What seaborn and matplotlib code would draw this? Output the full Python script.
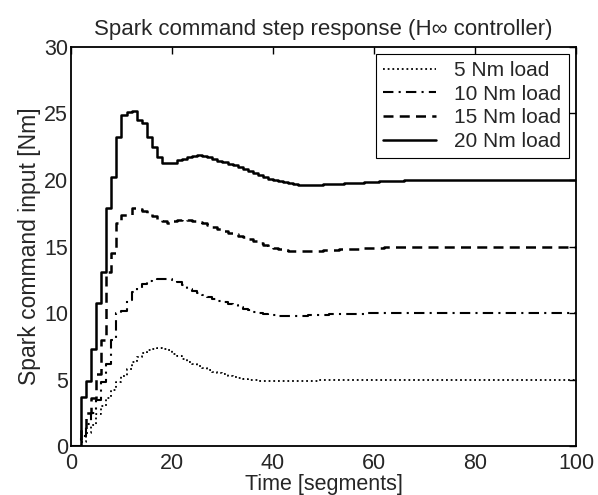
import numpy as np
import pandas as pd
import matplotlib
matplotlib.use("Agg")
import matplotlib.pyplot as plt
import seaborn as sns

# time axis in segments
time = list(range(101))

# spark command input [Nm] per segment
load_5 = [
    0, 0, 0.3, 1.0, 1.6, 2.4, 3.0, 3.6, 4.2, 4.8,
    5.3, 5.8, 6.3, 6.7, 7.0, 7.2, 7.3, 7.35, 7.3, 7.2,
    6.95, 6.75, 6.55, 6.35, 6.15, 6.0, 5.85, 5.7, 5.6, 5.5,
    5.4, 5.3, 5.2, 5.1, 5.05, 5.0, 4.95, 4.9, 4.9, 4.88,
    4.88, 4.88, 4.88, 4.88, 4.9, 4.9, 4.92, 4.93, 4.94, 4.95,
    4.96, 4.96, 4.97, 4.97, 4.98, 4.98, 4.99, 4.99, 5.0, 5.0,
] + [5.0] * 41

load_10 = [
    0, 0, 0.8, 1.7, 2.5, 3.5, 4.8, 6.2, 8.0, 10.0,
    10.2, 11.0, 11.6, 11.9, 12.2, 12.4, 12.5, 12.6, 12.6, 12.6,
    12.5, 12.35, 12.1, 11.85, 11.7, 11.55, 11.4, 11.2, 11.05, 10.95,
    10.85, 10.7, 10.6, 10.5, 10.35, 10.25, 10.1, 10.0, 9.95, 9.9,
    9.85, 9.82, 9.8, 9.8, 9.8, 9.8, 9.82, 9.84, 9.86, 9.88,
    9.9, 9.91, 9.92, 9.93, 9.94, 9.95, 9.96, 9.97, 9.98, 9.99,
] + [10.0] * 41

load_15 = [
    0, 0, 1.3, 2.5, 3.6, 5.4, 8.0, 13.1, 14.5, 16.8,
    17.4, 17.4, 17.9, 17.8, 17.7, 17.5, 17.3, 17.1, 16.9, 16.8,
    16.9, 17.0, 17.05, 17.0, 16.95, 16.85, 16.75, 16.6, 16.5, 16.35,
    16.2, 16.05, 15.95, 15.8, 15.7, 15.55, 15.4, 15.25, 15.1, 15.0,
    14.9, 14.8, 14.75, 14.7, 14.7, 14.7, 14.7, 14.7, 14.7, 14.7,
    14.72, 14.74, 14.76, 14.78, 14.8, 14.82, 14.84, 14.86, 14.88, 14.9,
    14.91, 14.92, 14.93, 14.94, 14.95, 14.96, 14.97, 14.98, 14.99, 14.99,
] + [15.0] * 31

load_20 = [
    0, 0, 3.7, 4.9, 7.3, 10.8, 13.1, 17.9, 20.2, 23.2,
    24.9, 25.1, 25.2, 24.5, 24.3, 23.2, 22.5, 21.7, 21.3, 21.3,
    21.3, 21.5, 21.6, 21.7, 21.8, 21.85, 21.8, 21.7, 21.6, 21.45,
    21.35, 21.2, 21.1, 20.95, 20.8, 20.65, 20.5, 20.4, 20.25, 20.1,
    20.0, 19.9, 19.85, 19.75, 19.7, 19.65, 19.65, 19.65, 19.65, 19.65,
    19.67, 19.7, 19.7, 19.72, 19.75, 19.77, 19.8, 19.8, 19.82, 19.85,
    19.87, 19.9, 19.9, 19.92, 19.93, 19.95, 19.96, 19.97, 19.98, 19.99,
] + [20.0] * 31

labels = ["5 Nm load", "10 Nm load", "15 Nm load", "20 Nm load"]
series = [load_5, load_10, load_15, load_20]
styles = [(0, (1, 1.6)), (0, (5, 2.5, 1, 2.5)), (0, (4, 2.5)), "-"]
widths = [1.3, 1.5, 1.8, 1.8]

df = pd.concat(
    [pd.DataFrame({"time": time, "value": s, "load": lab}) for s, lab in zip(series, labels)],
    ignore_index=True,
)

sns.set_style("white")
plt.rcParams["font.family"] = ["Liberation Sans", "DejaVu Sans"]

fig = plt.figure(figsize=(5.98, 4.95), dpi=100)
ax = fig.add_axes([0.1187, 0.098, 0.8445, 0.808])

for lab, ls, lw in zip(labels, styles, widths):
    sub = df[df["load"] == lab]
    sns.lineplot(data=sub, x="time", y="value", ax=ax, color="black",
                 linestyle=ls, linewidth=lw, drawstyle="steps-post", label=lab)

ax.set_xlim(0, 100)
ax.set_ylim(0, 30)
ax.set_xticks(range(0, 101, 20))
ax.set_yticks(range(0, 31, 5))
ax.tick_params(direction="in", top=True, right=True, length=5, width=1,
               labelsize=15.5, color="black")
ax.tick_params(axis="x", pad=4.5)
ax.tick_params(axis="y", pad=2)
for sp in ax.spines.values():
    sp.set_color("black")
    sp.set_linewidth(1.3)

ax.set_title("Spark command step response (H\u221e controller)", fontsize=16, pad=8)
ax.set_xlabel("Time [segments]", fontsize=15.5, labelpad=0)
ax.set_ylabel("Spark command input [Nm]", fontsize=16.5, labelpad=2)

leg = ax.legend(loc="upper right", fontsize=15, frameon=True, fancybox=False,
                edgecolor="black", framealpha=1, borderaxespad=0.35,
                handlelength=2.5, handletextpad=0.9, labelspacing=0.22,
                borderpad=0.35)
leg.get_frame().set_linewidth(0.8)

fig.savefig("out.png", dpi=100, facecolor="white")
